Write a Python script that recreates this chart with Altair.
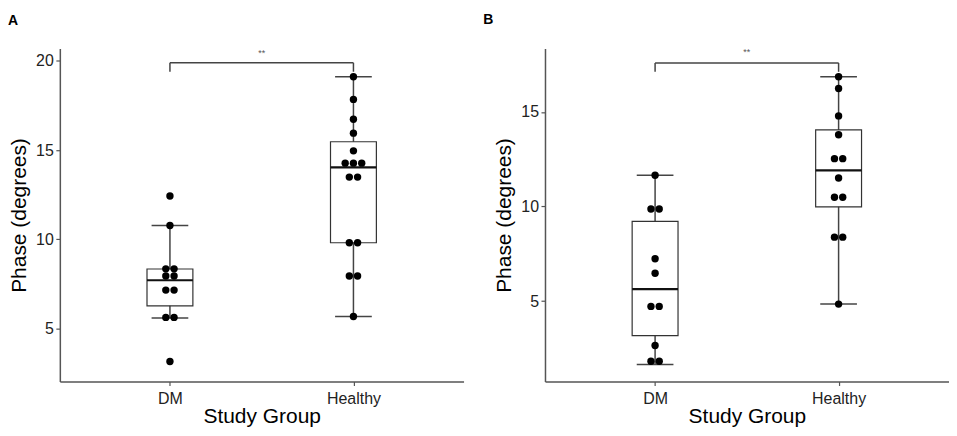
import altair as alt
import pandas as pd

# ---------------- data ----------------
groups = ["DM", "Healthy"]
group_pos = [1, 2]

# Panel A: individual points
a_dm = [12.43, 10.78, 8.35, 8.35, 7.95, 7.95, 7.16, 7.16, 5.63, 5.63, 3.16]
a_healthy = [19.11, 17.84, 16.73, 15.95, 14.96, 14.27, 14.27, 14.27,
             13.49, 13.49, 9.81, 9.81, 7.95, 7.95, 5.68]
# Panel A: box statistics [DM, Healthy]
a_wlo = [5.60, 5.68]
a_q1 = [6.28, 9.81]
a_med = [7.71, 14.03]
a_q3 = [8.34, 15.47]
a_whi = [10.78, 19.11]

# Panel B: individual points
b_dm = [11.65, 9.87, 9.87, 7.24, 6.47, 4.72, 4.72, 2.65, 1.82, 1.82]
b_healthy = [16.86, 16.24, 14.79, 13.79, 12.53, 12.53, 11.51,
             10.49, 10.49, 8.38, 8.38, 4.84]
# Panel B: box statistics [DM, Healthy]
b_wlo = [1.65, 4.84]
b_q1 = [3.17, 9.98]
b_med = [5.63, 11.91]
b_q3 = [9.21, 14.05]
b_whi = [11.65, 16.86]

# axes
a_ydomain = [2.04, 20.69]
a_yticks = [5, 10, 15, 20]
b_ydomain = [0.75, 18.35]
b_yticks = [5, 10, 15]

# significance brackets: [bar level, tip level, label level]
a_bracket = [19.89, 19.39, 20.46]
b_bracket = [17.59, 17.12, 18.17]
sig_label = "**"

FONT = "Liberation Sans"
DOT_STEP = 0.045
BOX_HALF = 0.125
CAP_HALF = 0.10
PW, PH = 405, 334


def dots_frame(vals_by_group):
    rows = []
    for pos, vals in zip(group_pos, vals_by_group):
        counts = {}
        for v in vals:
            counts[v] = counts.get(v, 0) + 1
        seen = {}
        for v in vals:
            n = counts[v]
            i = seen.get(v, 0)
            seen[v] = i + 1
            rows.append({"g": pos, "xd": pos + (i - (n - 1) / 2) * DOT_STEP, "y": v})
    return pd.DataFrame(rows)


def stats_frame(wlo, q1, med, q3, whi):
    return pd.DataFrame({"g": group_pos, "wlo": wlo, "q1": q1, "med": med,
                         "q3": q3, "whi": whi})


xscale = alt.Scale(domain=[0.4, 2.6], nice=False, zero=False)
label_expr = "[" + ",".join("'%s'" % g for g in groups) + "][datum.value - 1]"
xaxis = alt.Axis(values=group_pos, labelExpr=label_expr, title="Study Group",
                 titleX=PW / 2, titleY=40.7, titleBaseline="alphabetic",
                 labelPadding=5.5, tickSize=4)


def panel(dots, stats, ydomain, yticks, bracket, letter, letter_dx):
    yscale = alt.Scale(domain=ydomain, nice=False, zero=False)
    yaxis = alt.Axis(values=yticks, title="Phase (degrees)", titleX=-40.8,
                     titleY=PH / 2, titleBaseline="middle", labelPadding=2.5,
                     tickSize=4)

    def X(f):
        return alt.X(f, type="quantitative", scale=xscale, axis=xaxis, title="Study Group")

    def Y(f):
        return alt.Y(f, type="quantitative", scale=yscale, axis=yaxis, title="Phase (degrees)")

    sbase = alt.Chart(stats).transform_calculate(
        bl="datum.g - %f" % BOX_HALF, br="datum.g + %f" % BOX_HALF,
        cl="datum.g - %f" % CAP_HALF, cr="datum.g + %f" % CAP_HALF)

    whisker = sbase.mark_rule(color="#444444", strokeWidth=1.5).encode(
        x=X("g"), y=Y("wlo"), y2="whi")
    cap_hi = sbase.mark_rule(color="#444444", strokeWidth=1.5).encode(
        x=X("cl"), x2="cr", y=Y("whi"))
    cap_lo = sbase.mark_rule(color="#444444", strokeWidth=1.5).encode(
        x=X("cl"), x2="cr", y=Y("wlo"))
    box = sbase.mark_rect(fill="white", stroke="#333333", strokeWidth=1.2).encode(
        x=X("bl"), x2="br", y=Y("q1"), y2="q3")
    median = sbase.mark_rule(color="#111111", strokeWidth=2.2).encode(
        x=X("bl"), x2="br", y=Y("med"))

    pts = alt.Chart(dots).mark_circle(size=55, color="black", opacity=1).encode(
        x=X("xd"), y=Y("y"))

    bdf = pd.DataFrame({"x1": [group_pos[0]], "x2": [group_pos[1]],
                        "xm": [(group_pos[0] + group_pos[1]) / 2],
                        "bar": [bracket[0]], "tip": [bracket[1]],
                        "lab": [bracket[2]], "txt": [sig_label]})
    bbase = alt.Chart(bdf)
    bar = bbase.mark_rule(color="#444444", strokeWidth=1.5).encode(
        x=X("x1"), x2="x2", y=Y("bar"))
    tip1 = bbase.mark_rule(color="#444444", strokeWidth=1.5).encode(
        x=X("x1"), y=Y("bar"), y2="tip")
    tip2 = bbase.mark_rule(color="#444444", strokeWidth=1.5).encode(
        x=X("x2"), y=Y("bar"), y2="tip")
    star = bbase.mark_text(fontSize=9, color="#555555", font=FONT,
                           baseline="middle").encode(
        x=X("xm"), y=Y("lab"), text="txt:N")

    return alt.layer(whisker, cap_hi, cap_lo, box, median, pts,
                     bar, tip1, tip2, star).properties(
        width=PW, height=PH,
        title=alt.TitleParams(letter, anchor="start", frame="group", dx=letter_dx,
                              offset=10, fontSize=14, fontWeight="bold",
                              baseline="alphabetic", font=FONT, color="black"))


pa = panel(dots_frame([a_dm, a_healthy]),
           stats_frame(a_wlo, a_q1, a_med, a_q3, a_whi),
           a_ydomain, a_yticks, a_bracket, "A", -52)
pb = panel(dots_frame([b_dm, b_healthy]),
           stats_frame(b_wlo, b_q1, b_med, b_q3, b_whi),
           b_ydomain, b_yticks, b_bracket, "B", -62)

chart = alt.hconcat(pa, pb, spacing=81.7, bounds="flush").properties(
    padding={"left": 0, "top": 4, "right": 0, "bottom": 0}
).configure_view(stroke=None).configure_axis(
    grid=False, domainColor="#555555", domainWidth=1.5, tickColor="#555555",
    tickWidth=1.2, labelColor="#222222", labelFont=FONT, labelFontSize=16,
    titleColor="black", titleFont=FONT, titleFontSize=21, titleFontWeight="normal"
)

chart.save("out.html", embed_options={"renderer": "svg", "actions": False})
